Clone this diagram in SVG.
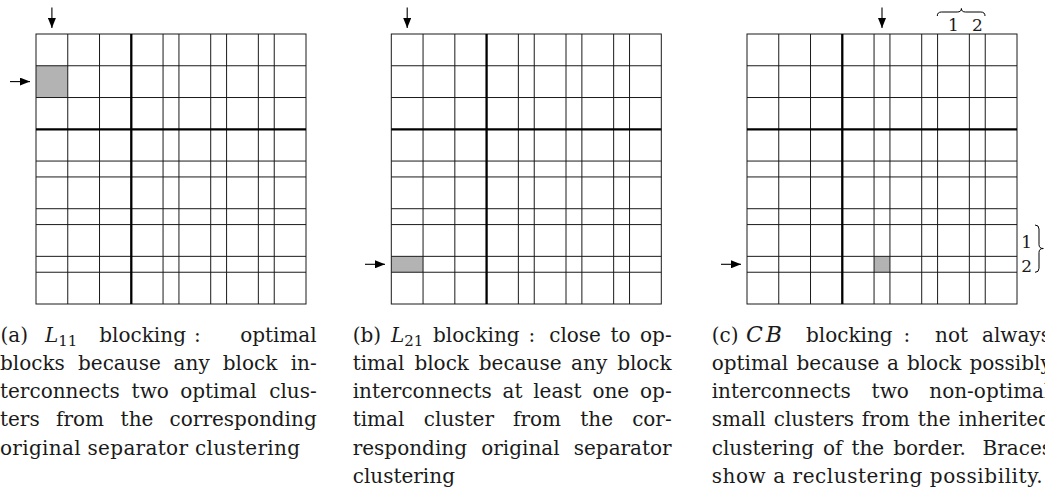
<svg xmlns="http://www.w3.org/2000/svg" xmlns:xlink="http://www.w3.org/1999/xlink" width="1045" height="493" viewBox="0 0 1045 493">
<style>
.bg{fill:#fff}
.cell{fill:#b3b3b3}
.thin{fill:none;stroke:#1a1a1a;stroke-width:1}
.thick{fill:none;stroke:#000;stroke-width:2.3}
.arr{fill:none;stroke:#000;stroke-width:1.1}
.brace{fill:none;stroke:#000;stroke-width:1}
.cap{font-family:"DejaVu Serif",serif;font-size:20px;fill:#1a1a1a}
.it{font-style:italic}
.sub{font-size:15px}
.end{text-anchor:end}
.lab{font-family:"DejaVu Serif",serif;font-size:17px;fill:#1a1a1a;text-anchor:middle}
</style>
<defs>
<marker id="ah" viewBox="0 0 10 8" refX="10" refY="4" markerWidth="10" markerHeight="8" markerUnits="userSpaceOnUse" orient="auto">
<path d="M0,0 L10,4 L0,8 Z" fill="#000"/>
</marker>
<g id="grid">
<path class="thin" d="M31.76,0V270M63.53,0V270M127.06,0V270M142.94,0V270M174.71,0V270M190.59,0V270M222.35,0V270M238.24,0V270M0,31.76H270M0,63.53H270M0,127.06H270M0,142.94H270M0,174.71H270M0,190.59H270M0,222.35H270M0,238.24H270"/>
<rect class="thin" x="0" y="0" width="270" height="270"/>
<path class="thick" d="M95.29,0V270M0,95.29H270"/>
</g>
</defs>
<rect class="bg" x="0" y="0" width="1045" height="493"/>

<g id="fig-a">
<g id="grid-a" transform="translate(36,34)">
<rect class="cell" x="0" y="31.76" width="31.76" height="31.77"/>
<use xlink:href="#grid"/>
</g>
<g id="caption-a">
<text class="cap" x="0.5" y="341.8">(a)</text>
<text class="cap" x="45" y="341.8"><tspan class="it">L</tspan><tspan class="sub" dy="4.5">11</tspan></text>
<text class="cap" x="99.3" y="341.8">blocking</text>
<text class="cap" x="194" y="341.8">:</text>
<text class="cap end" x="316.7" y="341.8">optimal</text>
<text class="cap" x="0" y="370">blocks</text>
<text class="cap" x="78" y="370">because</text>
<text class="cap" x="173.6" y="370">any</text>
<text class="cap" x="222.8" y="370">block</text>
<text class="cap end" x="316.7" y="370">in-</text>
<text class="cap" x="0" y="398.2">terconnects</text>
<text class="cap" x="131.6" y="398.2">two</text>
<text class="cap" x="180.2" y="398.2">optimal</text>
<text class="cap end" x="316.7" y="398.2">clus-</text>
<text class="cap" x="0" y="426.4">ters</text>
<text class="cap" x="56" y="426.4">from</text>
<text class="cap" x="120.6" y="426.4">the</text>
<text class="cap end" x="316.7" y="426.4">corresponding</text>
<text class="cap" x="0" y="454.6" textLength="300" lengthAdjust="spacing">original separator clustering</text>
</g>
</g>

<g id="fig-b">
<g id="grid-b" transform="translate(391.3,34)">
<rect class="cell" x="0" y="222.35" width="31.76" height="15.89"/>
<use xlink:href="#grid"/>
</g>
<g id="caption-b">
<text class="cap" x="352.7" y="341.8">(b)</text>
<text class="cap" x="391" y="341.8"><tspan class="it">L</tspan><tspan class="sub" dy="4.5">21</tspan></text>
<text class="cap" x="433" y="341.8">blocking</text>
<text class="cap" x="528.5" y="341.8">:</text>
<text class="cap" x="549.2" y="341.8">close</text>
<text class="cap" x="610.4" y="341.8">to</text>
<text class="cap end" x="671.7" y="341.8">op-</text>
<text class="cap" x="352.7" y="370">timal</text>
<text class="cap" x="414.4" y="370">block</text>
<text class="cap" x="478.8" y="370">because</text>
<text class="cap" x="571.1" y="370">any</text>
<text class="cap end" x="671.7" y="370">block</text>
<text class="cap" x="352.7" y="398.2">interconnects</text>
<text class="cap" x="502.5" y="398.2">at</text>
<text class="cap" x="533.2" y="398.2">least</text>
<text class="cap" x="592.4" y="398.2">one</text>
<text class="cap end" x="671.7" y="398.2">op-</text>
<text class="cap" x="352.7" y="426.4">timal</text>
<text class="cap" x="423.8" y="426.4">cluster</text>
<text class="cap" x="513" y="426.4">from</text>
<text class="cap" x="580.3" y="426.4">the</text>
<text class="cap end" x="671.7" y="426.4">cor-</text>
<text class="cap" x="352.7" y="454.6">responding</text>
<text class="cap" x="481.2" y="454.6">original</text>
<text class="cap end" x="671.7" y="454.6">separator</text>
<text class="cap" x="352.7" y="482.8">clustering</text>
</g>
</g>

<g id="fig-c">
<g id="grid-c" transform="translate(747,34)">
<rect class="cell" x="127.06" y="222.35" width="15.88" height="15.89"/>
<use xlink:href="#grid"/>
</g>
<g id="braces-c">
<path class="brace" d="M937.3,16 Q937.3,12 941.5,12 L957.2,12 Q961.4,12 961.4,8.5 Q961.4,12 965.6,12 L980.8,12 Q985,12 985,16"/>
<text class="lab" x="953.3" y="30.7">1</text>
<text class="lab" x="977.3" y="30.7">2</text>
<path class="brace" d="M1035,225 Q1039,225 1039,229 L1039,244.5 Q1039,248.5 1043.3,248.5 Q1039,248.5 1039,252.5 L1039,268.3 Q1039,272.3 1035,272.3"/>
<text class="lab" x="1026.7" y="248.3">1</text>
<text class="lab" x="1026.7" y="271.7">2</text>
</g>
<g id="caption-c">
<text class="cap" x="711.7" y="341.8">(c)</text>
<text class="cap it" x="746" y="341.8" style="font-size:22px;letter-spacing:3px">CB</text>
<text class="cap" x="806" y="341.8">blocking</text>
<text class="cap" x="903.5" y="341.8">:</text>
<text class="cap" x="935" y="341.8">not</text>
<text class="cap" x="982" y="341.8">always</text>
<text class="cap" x="711.7" y="370">optimal</text>
<text class="cap" x="796.5" y="370">because</text>
<text class="cap" x="887.1" y="370">a</text>
<text class="cap" x="906.9" y="370">block</text>
<text class="cap" x="969.5" y="370">possibly</text>
<text class="cap" x="711.7" y="398.2">interconnects</text>
<text class="cap" x="871.6" y="398.2">two</text>
<text class="cap" x="929.3" y="398.2">non-optimal</text>
<text class="cap" x="711.7" y="426.4">small</text>
<text class="cap" x="773.7" y="426.4">clusters</text>
<text class="cap" x="861.8" y="426.4">from</text>
<text class="cap" x="917.8" y="426.4">the</text>
<text class="cap" x="958.3" y="426.4">inherited</text>
<text class="cap" x="711.7" y="454.6">clustering</text>
<text class="cap" x="822.9" y="454.6">of</text>
<text class="cap" x="851.4" y="454.6">the</text>
<text class="cap" x="893.2" y="454.6">border.</text>
<text class="cap" x="982.5" y="454.6">Braces</text>
<text class="cap" x="711.7" y="482.8" textLength="331" lengthAdjust="spacing">show a reclustering possibility.</text>
</g>
</g>

<g id="connectors">
<line class="arr" x1="51.9" y1="7.5" x2="51.9" y2="28" marker-end="url(#ah)"/>
<line class="arr" x1="10" y1="81.6" x2="30" y2="81.6" marker-end="url(#ah)"/>
<line class="arr" x1="407.2" y1="7.5" x2="407.2" y2="28" marker-end="url(#ah)"/>
<line class="arr" x1="365" y1="264.3" x2="385" y2="264.3" marker-end="url(#ah)"/>
<line class="arr" x1="882" y1="7.5" x2="882" y2="28" marker-end="url(#ah)"/>
<line class="arr" x1="721" y1="264.3" x2="741" y2="264.3" marker-end="url(#ah)"/>
</g>
</svg>
